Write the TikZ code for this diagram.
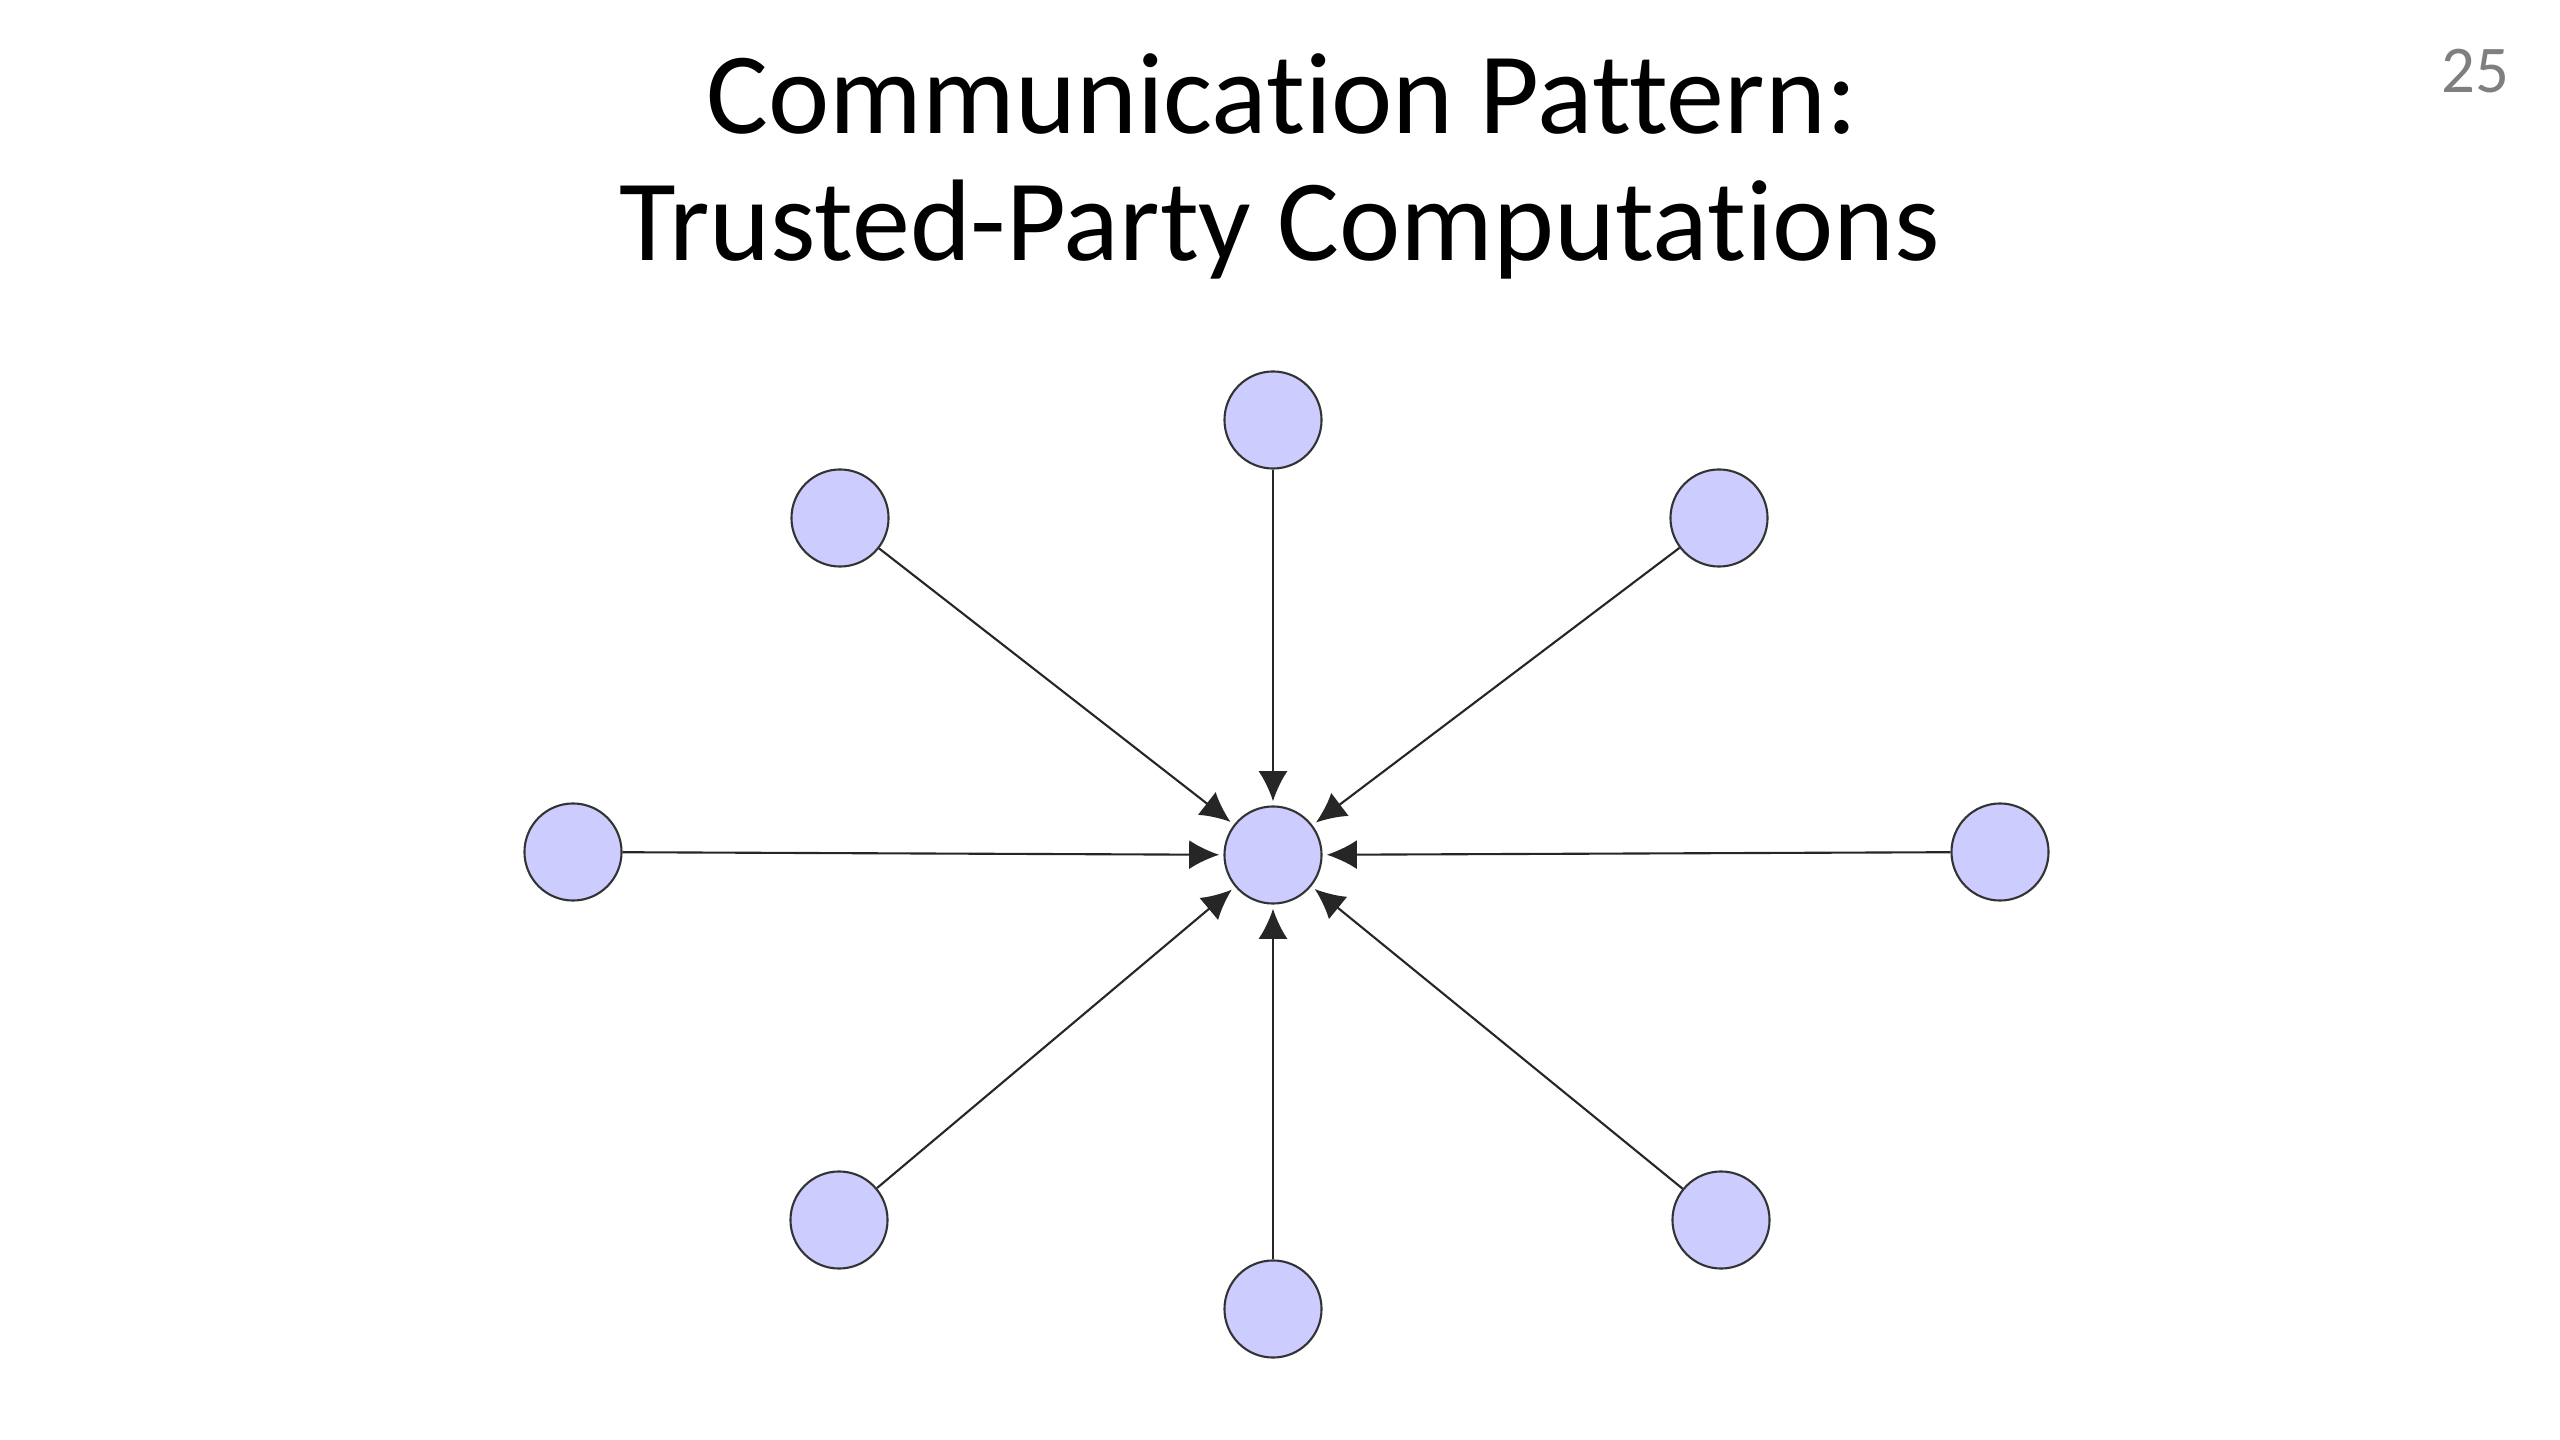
\documentclass[tikz,border=0pt]{standalone}
\usepackage{fontspec}
\setmainfont{Carlito}[Ligatures=NoCommon]
\usepackage{xcolor}
\usetikzlibrary{arrows.meta, positioning}

\definecolor{partyfill}{HTML}{CCCCFF}
\definecolor{slidegray}{HTML}{7F7F7F}

\begin{document}
\begin{tikzpicture}[
  x=0.01cm, y=-0.01cm,
  party/.style = {circle, draw=black!80, line width=0.6pt, fill=partyfill,
                  minimum size=0.97cm, inner sep=0pt},
  msg/.style = {-{Latex[length=3mm, width=2.9mm]}, line width=0.6pt, black!85,
                shorten >=1.2pt},
  titlefont/.style = {font=\fontsize{33}{40}\selectfont, anchor=base, inner sep=0pt}
]
  \useasboundingbox (0,0) rectangle (2560,1440);

  % slide title and number
  \node[titlefont] (title1) at (1282,134) {Communication Pattern:};
  \node[titlefont] (title2) at (1280,261) {Trusted-Party Computations};
  \node[font=\fontsize{19}{22}\selectfont, text=slidegray, anchor=base, inner sep=0pt]
       (pagenum) at (2475,93) {25};

  % trusted party
  \node[party] (tp) at (1273,855) {};

  % the other parties
  \node[party] (pn)  at (1273,420)  {};
  \node[party] (pnw) at (840,518)   {};
  \node[party] (pne) at (1719,518)  {};
  \node[party] (pw)  at (573,852)   {};
  \node[party] (pe)  at (2000,852)  {};
  \node[party] (psw) at (839,1220)  {};
  \node[party] (ps)  at (1273,1309) {};
  \node[party] (pse) at (1721,1220) {};

  \draw[msg] (pn)  -- (tp);
  \draw[msg] (pnw) -- (tp);
  \draw[msg] (pne) -- (tp);
  \draw[msg] (pw)  -- (tp);
  \draw[msg] (pe)  -- (tp);
  \draw[msg] (psw) -- (tp);
  \draw[msg] (ps)  -- (tp);
  \draw[msg] (pse) -- (tp);
\end{tikzpicture}
\end{document}
